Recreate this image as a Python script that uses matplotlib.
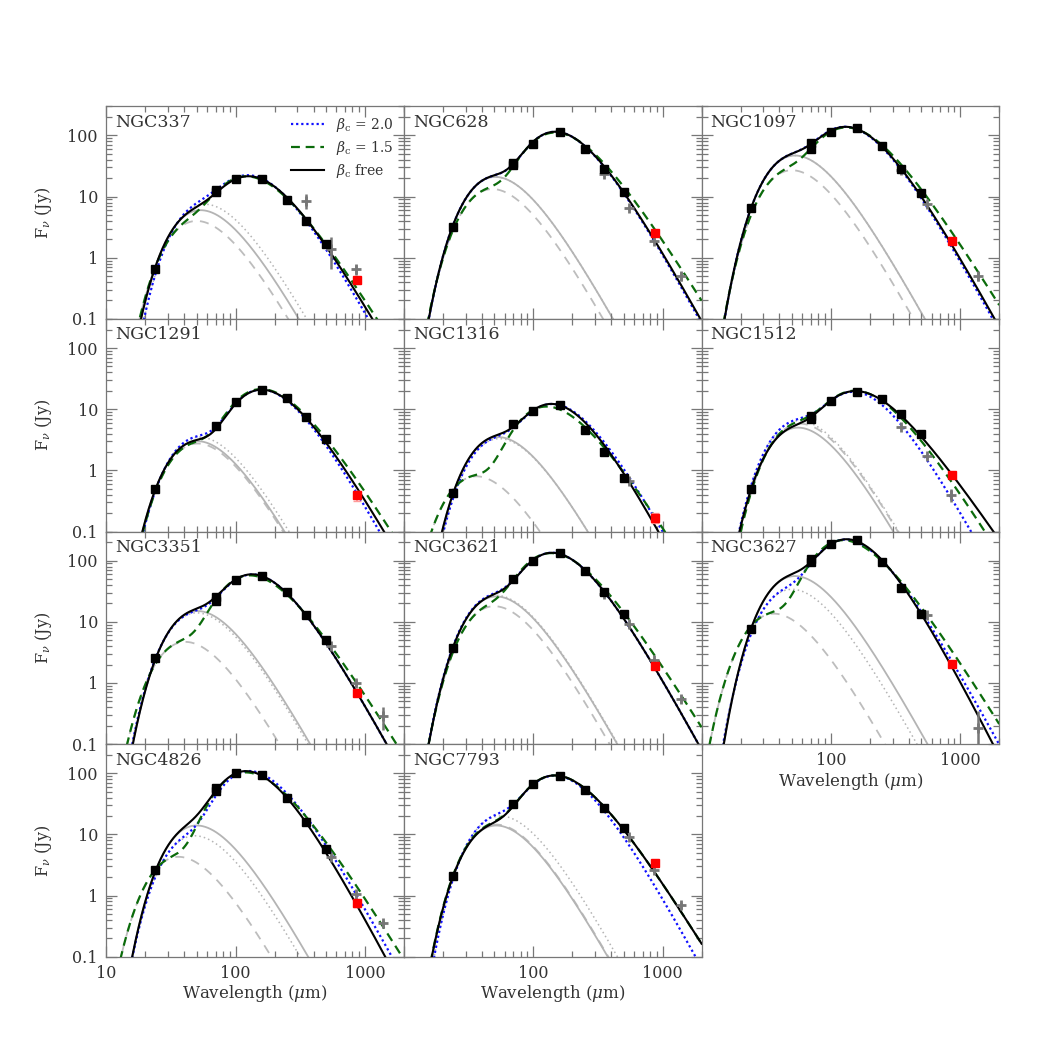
import numpy as np
import matplotlib
matplotlib.use('Agg')
import matplotlib.pyplot as plt
from matplotlib.ticker import LogLocator, NullFormatter, FixedLocator, FixedFormatter

# ---------------- data ----------------
GALAXIES = ['NGC337', 'NGC628', 'NGC1097', 'NGC1291', 'NGC1316', 'NGC1512',
            'NGC3351', 'NGC3621', 'NGC3627', 'NGC4826', 'NGC7793']

LAM_BAND = [24, 70, 100, 160, 250, 350, 500]
F_BAND = [
    [0.66, 11.7, 19.5, 19.5, 8.9, 4.0, 1.67],
    [3.2, 33, 73, 116, 60, 28, 12],
    [6.5, 60, 116, 134, 67, 28, 11.5],
    [0.49, 5.3, 13, 20.7, 15.1, 7.5, 3.2],
    [0.43, 5.7, 9.5, 11.7, 4.5, 1.96, 0.76],
    [0.49, 6.9, 13.8, 19, 14.8, 8.2, 4.0],
    [2.58, 22, 48, 57, 31, 13, 5.0],
    [3.77, 51, 97, 132, 68, 31, 13.6],
    [7.7, 95, 186, 214, 94, 36, 13.6],
    [2.58, 52, 100, 94, 40, 15.7, 5.7],
    [2.08, 32, 67, 91, 53, 27, 12.5],
]
F_70_ALT = [12.8, 36, 76, None, None, 7.8, 25, None, 105, 57, None]

LAM_PLANCK = [350, 550, 850, 1380]
F_PLANCK = [
    [8.6, 1.4, 0.65, None],
    [23, 6.4, 1.9, 0.5],
    [27, 7.5, None, 0.5],
    [None, None, None, None],
    [None, 0.67, None, None],
    [5.2, 1.7, 0.4, None],
    [None, 4.0, 1.0, 0.29],
    [29, 9.1, 2.4, 0.55],
    [None, 13, None, 0.18],
    [None, 4.3, 1.07, 0.35],
    [None, 9.1, 2.6, 0.69],
]
E_PLANCK = [
    [2.3, 0.75, 0.12, None],
    [1.5, 0.4, 0.15, 0.08],
    [1.5, 0.5, None, 0.08],
    [None, None, None, None],
    [None, 0.08, None, None],
    [0.4, 0.15, 0.1, None],
    [None, 0.3, 0.1, 0.12],
    [1.5, 0.6, 0.2, 0.08],
    [None, 1.0, None, 0.17],
    [None, 0.3, 0.1, 0.05],
    [None, 0.6, 0.2, 0.08],
]

LAM_SUBMM = 870
F_SUBMM = [0.43, 2.5, 1.89, 0.39, 0.168, 0.85, 0.69, 1.89, 2.05, 0.76, 3.4]
E_SUBMM = [0.05, 0.25, 0.15, 0.07, 0.03, 0.1, 0.08, 0.15, 0.2, 0.1, 0.35]

# two-component modified black-body parameters (warm beta = 2)
# beta_c free fit
TW_FREE = [54, 57, 55, 57, 54, 52, 57, 56, 55, 58, 56]
PW_FREE = [6.0, 21, 47, 3.0, 3.5, 5.0, 15, 26, 56, 14, 14]
TC_FREE = [23, 19.5, 21.5, 18.8, 19.5, 21.8, 21, 20.3, 20, 23, 21.7]
PC_FREE = [20, 112, 128, 20.5, 11.5, 19, 57, 130, 212, 105, 90]
BETA_FREE = [1.8, 1.95, 1.95, 1.8, 2.2, 1.2, 2.0, 2.0, 2.3, 2.15, 1.5]
# beta_c = 2.0
TW_B2 = [50, 57, 55, 55, 53, 51, 58, 56, 58, 60, 52]
PW_B2 = [7.5, 21, 47, 3.5, 3.3, 6.5, 14, 27, 34, 9.5, 20]
TC_B2 = [22, 19.3, 21.5, 18.1, 20, 18.7, 21, 20.3, 22, 22.6, 19.3]
PC_B2 = [20, 112, 128, 20.5, 11.5, 18, 57, 130, 215, 107, 88]
# beta_c = 1.5
TW_B15 = [58, 60, 58, 57, 80, 50, 71, 58, 80, 80, 56]
PW_B15 = [4.0, 13.3, 27, 2.75, 0.8, 5.8, 4.7, 18, 13.6, 4.3, 14.5]
TC_B15 = [26, 21.7, 24, 20.3, 25.5, 20.3, 25, 23.2, 26, 27, 21.7]
PC_B15 = [20.5, 110, 130, 21, 11, 19, 57, 130, 215, 103, 90]

# ---------------- styling ----------------
plt.rcParams['font.family'] = ['DejaVu Serif']
plt.rcParams['mathtext.fontset'] = 'dejavuserif'
TXT = '#333333'
AXC = '#777777'


def mbb(lam, T, beta, peak):
    x = 14388.0 / (lam * T)
    s = x ** (3 + beta) / np.expm1(x)
    xx = np.linspace(0.5, 20, 4000)
    m = (xx ** (3 + beta) / np.expm1(xx)).max()
    return peak * s / m


lam = np.logspace(1, np.log10(2000), 800)

fig = plt.figure(figsize=(10.63, 10.63), dpi=100)
left, right, top, bottom = 0.1, 0.94, 0.9, 0.1
cw = (right - left) / 3
rh = (top - bottom) / 4

for i, name in enumerate(GALAXIES):
    r, c = divmod(i, 3)
    ax = fig.add_axes([left + c * cw, top - (r + 1) * rh, cw, rh])
    ax.set_xscale('log')
    ax.set_yscale('log')
    ax.set_xlim(10, 2000)
    ax.set_ylim(0.1, 300)

    wf = mbb(lam, TW_FREE[i], 2.0, PW_FREE[i])
    w2 = mbb(lam, TW_B2[i], 2.0, PW_B2[i])
    w15 = mbb(lam, TW_B15[i], 2.0, PW_B15[i])
    tf = wf + mbb(lam, TC_FREE[i], BETA_FREE[i], PC_FREE[i])
    t2 = w2 + mbb(lam, TC_B2[i], 2.0, PC_B2[i])
    t15 = w15 + mbb(lam, TC_B15[i], 1.5, PC_B15[i])

    ax.plot(lam, w2, color='#b4b4b4', lw=1.1, ls=(0, (1, 2)), zorder=1)
    ax.plot(lam, w15, color='#bdbdbd', lw=1.3, ls=(0, (5, 4)), zorder=1)
    ax.plot(lam, wf, color='#b4b4b4', lw=1.3, zorder=1)
    l2, = ax.plot(lam, t2, color='#1010ff', lw=1.6, ls=(0, (1, 1.3)), zorder=2,
                  label=r'$\beta_{\rm c}$ = 2.0')
    l15, = ax.plot(lam, t15, color='#0b6b0b', lw=1.6, ls=(0, (4, 2.6)), zorder=3,
                   label=r'$\beta_{\rm c}$ = 1.5')
    lf, = ax.plot(lam, tf, color='black', lw=1.5, zorder=4,
                  label=r'$\beta_{\rm c}$ free')

    # Planck points (grey crosses)
    for lp, fp, ep in zip(LAM_PLANCK, F_PLANCK[i], E_PLANCK[i]):
        if fp is None:
            continue
        ax.errorbar([lp], [fp], yerr=[[ep], [ep]], fmt='+', color='#777777',
                    ms=7.5, mew=2.0, elinewidth=1.8, capsize=0, zorder=5)

    # submm (red)
    ax.errorbar([LAM_SUBMM], [F_SUBMM[i]], yerr=[E_SUBMM[i]], fmt='s',
                color='#ff0000', ecolor='#ff9a9a', ms=5.5, elinewidth=1.2,
                capsize=3, zorder=6)

    # Spitzer/Herschel (black squares)
    fb = np.array(F_BAND[i], dtype=float)
    ax.errorbar(LAM_BAND, fb, yerr=0.07 * fb, fmt='s', color='black',
                ecolor='#555555', ms=5.2, elinewidth=1.0, capsize=3, zorder=7)
    if F_70_ALT[i] is not None:
        ax.errorbar([70], [F_70_ALT[i]], yerr=[0.07 * F_70_ALT[i]], fmt='s',
                    color='black', ecolor='#555555', ms=5.2, elinewidth=1.0,
                    capsize=3, zorder=7)

    ax.text(0.03, 0.965, name, transform=ax.transAxes, va='top', ha='left',
            fontsize=12.5, color=TXT)

    # ticks
    ax.xaxis.set_major_locator(FixedLocator([10, 100, 1000]))
    ax.xaxis.set_minor_locator(LogLocator(base=10, subs=np.arange(2, 10), numticks=20))
    ax.yaxis.set_major_locator(FixedLocator([0.1, 1, 10, 100]))
    ax.yaxis.set_minor_locator(LogLocator(base=10, subs=np.arange(2, 10), numticks=20))
    ax.xaxis.set_minor_formatter(NullFormatter())
    ax.yaxis.set_minor_formatter(NullFormatter())
    ax.tick_params(which='both', direction='in', top=True, right=True,
                   color=AXC, labelcolor=TXT, labelsize=11.5, width=0.9)
    ax.tick_params(which='major', length=8, pad=6)
    ax.tick_params(which='minor', length=4)
    for sp in ax.spines.values():
        sp.set_color(AXC)
        sp.set_linewidth(0.9)

    if c == 0:
        ax.yaxis.set_major_formatter(FixedFormatter(['0.1', '1', '10', '100']))
        ax.set_ylabel(r'F$_\nu$ (Jy)', fontsize=11.5, color=TXT, labelpad=10)
    else:
        ax.set_yticklabels([])

    show_x = (r == 3) or (i == 8)
    if show_x:
        if c == 0:
            ax.xaxis.set_major_formatter(FixedFormatter(['10', '100', '1000']))
        else:
            ax.xaxis.set_major_formatter(FixedFormatter(['', '100', '1000']))
        ax.set_xlabel(r'Wavelength ($\mu$m)', fontsize=12, color=TXT, labelpad=1)
    else:
        ax.set_xticklabels([])

    if i == 0:
        ax.legend(handles=[l2, l15, lf], loc='upper right', frameon=False,
                  fontsize=10, handlelength=2.4, handletextpad=0.9,
                  labelspacing=0.35, borderaxespad=0.3, labelcolor=TXT)

fig.savefig('out.png', dpi=100)
